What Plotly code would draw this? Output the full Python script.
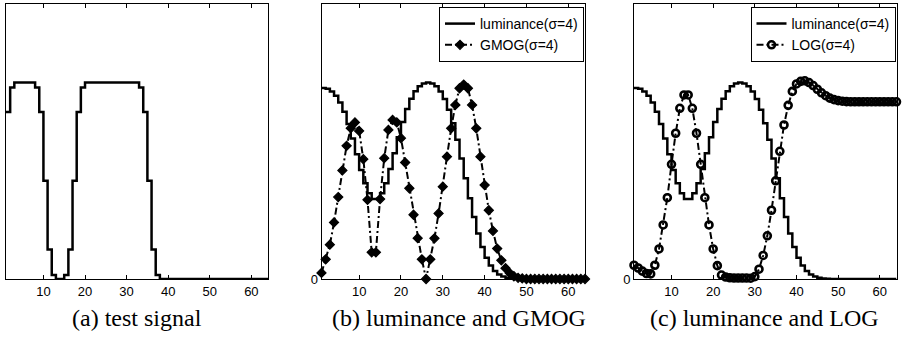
import plotly.graph_objects as go

# ---------------- data ----------------
x = list(range(1, 65))
xtick_vals = [10, 20, 30, 40, 50, 60]
captions = ["(a) test signal", "(b) luminance and GMOG", "(c) luminance and LOG"]
name_lum = "luminance(σ=4)"
name_gmog = "GMOG(σ=4)"
name_log = "LOG(σ=4)"

signal = [0.85, 0.975, 1.0, 1.0, 1.0, 1.0, 1.0, 0.975, 0.85, 0.5,
          0.15, 0.02, 0.0, 0.0, 0.02, 0.15, 0.5, 0.85, 0.975, 1.0,
          1.0, 1.0, 1.0, 1.0, 1.0, 1.0, 1.0, 1.0, 1.0, 1.0,
          1.0, 1.0, 0.975, 0.85, 0.5, 0.15, 0.02, 0.0, 0.0, 0.0,
          0.0, 0.0, 0.0, 0.0, 0.0, 0.0, 0.0, 0.0, 0.0, 0.0,
          0.0, 0.0, 0.0, 0.0, 0.0, 0.0, 0.0, 0.0, 0.0, 0.0,
          0.0, 0.0, 0.0, 0.0]

luminance = [0.972, 0.968, 0.955, 0.933, 0.899, 0.851, 0.789, 0.715, 0.635, 0.555,
             0.487, 0.436, 0.407, 0.407, 0.436, 0.487, 0.56, 0.64, 0.722, 0.799,
             0.865, 0.917, 0.956, 0.981, 0.995, 1.0, 0.995, 0.981, 0.955, 0.916,
             0.862, 0.793, 0.709, 0.614, 0.513, 0.411, 0.316, 0.232, 0.163, 0.108,
             0.069, 0.041, 0.023, 0.013, 0.006, 0.003, 0.001, 0.0, 0.0, 0.0,
             0.0, 0.0, 0.0, 0.0, 0.0, 0.0, 0.0, 0.0, 0.0, 0.0,
             0.0, 0.0, 0.0, 0.0]

gmog = [0.031, 0.10, 0.175, 0.288, 0.417, 0.553, 0.678, 0.768, 0.797, 0.754,
        0.61, 0.403, 0.136, 0.136, 0.407, 0.615, 0.759, 0.81, 0.797, 0.717,
        0.593, 0.462, 0.327, 0.208, 0.10, 0.0, 0.10, 0.207, 0.334, 0.47,
        0.623, 0.767, 0.886, 0.971, 0.99, 0.971, 0.886, 0.767, 0.623, 0.478,
        0.35, 0.245, 0.155, 0.095, 0.055, 0.03, 0.014, 0.006, 0.003, 0.0,
        0.0, 0.0, 0.0, 0.0, 0.0, 0.0, 0.0, 0.0, 0.0, 0.0,
        0.0, 0.0, 0.0, 0.0]

log_resp = [0.07, 0.056, 0.04, 0.028, 0.026, 0.07, 0.153, 0.275, 0.414, 0.584,
            0.742, 0.869, 0.937, 0.937, 0.869, 0.742, 0.584, 0.414, 0.275, 0.153,
            0.068, 0.02, 0.01, 0.006, 0.005, 0.005, 0.005, 0.005, 0.004, 0.012,
            0.05, 0.12, 0.22, 0.35, 0.50, 0.65, 0.784, 0.884, 0.955, 0.993,
            1.006, 1.009, 1.0, 0.985, 0.966, 0.948, 0.933, 0.921, 0.913, 0.908,
            0.905, 0.903, 0.902, 0.902, 0.902, 0.902, 0.902, 0.902, 0.902, 0.902,
            0.902, 0.902, 0.902, 0.902]

# ---------------- layout helpers (pixel -> paper) ----------------
W, H = 905, 341
FIG_H = 349
def px(v):
    return v / W
def py(v):
    return 1 - v / H

dom_a = [px(6), px(268)]
dom_b = [px(321.5), px(585)]
dom_c = [px(634), px(896.5)]
dom_y = [py(279), py(4)]

BLACK = "black"
tick_font = dict(family="Liberation Sans, Arial, sans-serif", size=13, color=BLACK)
DASHDOT = "7px,3px,2px,3px"

fig = go.Figure()

# panel (a)
fig.add_trace(go.Scatter(x=x, y=signal, mode="lines", line=dict(color=BLACK, width=2.5, shape="hv"),
                         xaxis="x", yaxis="y", showlegend=False, cliponaxis=False))

# panel (b)
fig.add_trace(go.Scatter(x=x, y=luminance, mode="lines", name=name_lum,
                         line=dict(color=BLACK, width=2.5, shape="hv"),
                         xaxis="x2", yaxis="y2", legend="legend", cliponaxis=False))
fig.add_trace(go.Scatter(x=x, y=gmog, mode="lines+markers", name=name_gmog,
                         line=dict(color=BLACK, width=2, dash=DASHDOT),
                         marker=dict(symbol="diamond", size=7, color=BLACK, line=dict(color=BLACK, width=1.2)),
                         xaxis="x2", yaxis="y2", legend="legend", cliponaxis=False))

# panel (c)
fig.add_trace(go.Scatter(x=x, y=luminance, mode="lines", name=name_lum,
                         line=dict(color=BLACK, width=2.5, shape="hv"),
                         xaxis="x3", yaxis="y3", legend="legend2", cliponaxis=False))
fig.add_trace(go.Scatter(x=x, y=log_resp, mode="lines+markers", name=name_log,
                         line=dict(color=BLACK, width=2, dash=DASHDOT),
                         marker=dict(symbol="circle-open", size=7, color=BLACK, line=dict(color=BLACK, width=2.6)),
                         xaxis="x3", yaxis="y3", legend="legend2", cliponaxis=False))

def xaxis(dom, anchor):
    return dict(domain=dom, anchor=anchor, range=[1, 64], tickvals=xtick_vals,
                ticks="inside", ticklen=4, tickwidth=1, tickcolor=BLACK,
                showline=True, linecolor=BLACK, linewidth=1, mirror="ticks",
                showgrid=False, zeroline=False, tickfont=tick_font)

def yaxis(anchor, labels=True):
    d = dict(domain=dom_y, anchor=anchor, range=[0, 1.4],
             showline=True, linecolor=BLACK, linewidth=1, mirror=True,
             showgrid=False, zeroline=False, tickfont=tick_font)
    if labels:
        d.update(tickvals=[0], ticktext=["0"], ticks="inside", ticklen=4, tickcolor=BLACK)
    else:
        d.update(showticklabels=False, ticks="")
    return d

legend_common = dict(bgcolor="white", bordercolor=BLACK, borderwidth=1,
                     font=dict(family="Liberation Sans, Arial, sans-serif", size=14, color=BLACK),
                     xanchor="right", yanchor="top", tracegroupgap=0, itemwidth=30)

fig.update_layout(
    width=W, height=FIG_H, margin=dict(l=0, r=0, t=0, b=0), autosize=False,
    paper_bgcolor="white", plot_bgcolor="white",
    xaxis=xaxis(dom_a, "y"), yaxis=yaxis("x", labels=False),
    xaxis2=xaxis(dom_b, "y2"), yaxis2=yaxis("x2"),
    xaxis3=xaxis(dom_c, "y3"), yaxis3=yaxis("x3"),
    legend=dict(x=px(584), y=py(7), **legend_common),
    legend2=dict(x=px(895.5), y=py(7), **legend_common),
)

cap_x = [137, 459, 764]
for cx, txt in zip(cap_x, captions):
    fig.add_annotation(text=txt, x=px(cx), y=py(318), xref="paper", yref="paper",
                       xanchor="center", yanchor="middle", showarrow=False,
                       font=dict(family="Liberation Serif, Times New Roman, serif", size=24, color=BLACK))

fig.write_html("out.html",
               config={"displayModeBar": False, "responsive": False},
               post_script="document.documentElement.style.overflow='hidden';"
                           "document.body.style.margin='0px';document.body.style.overflow='hidden';")
